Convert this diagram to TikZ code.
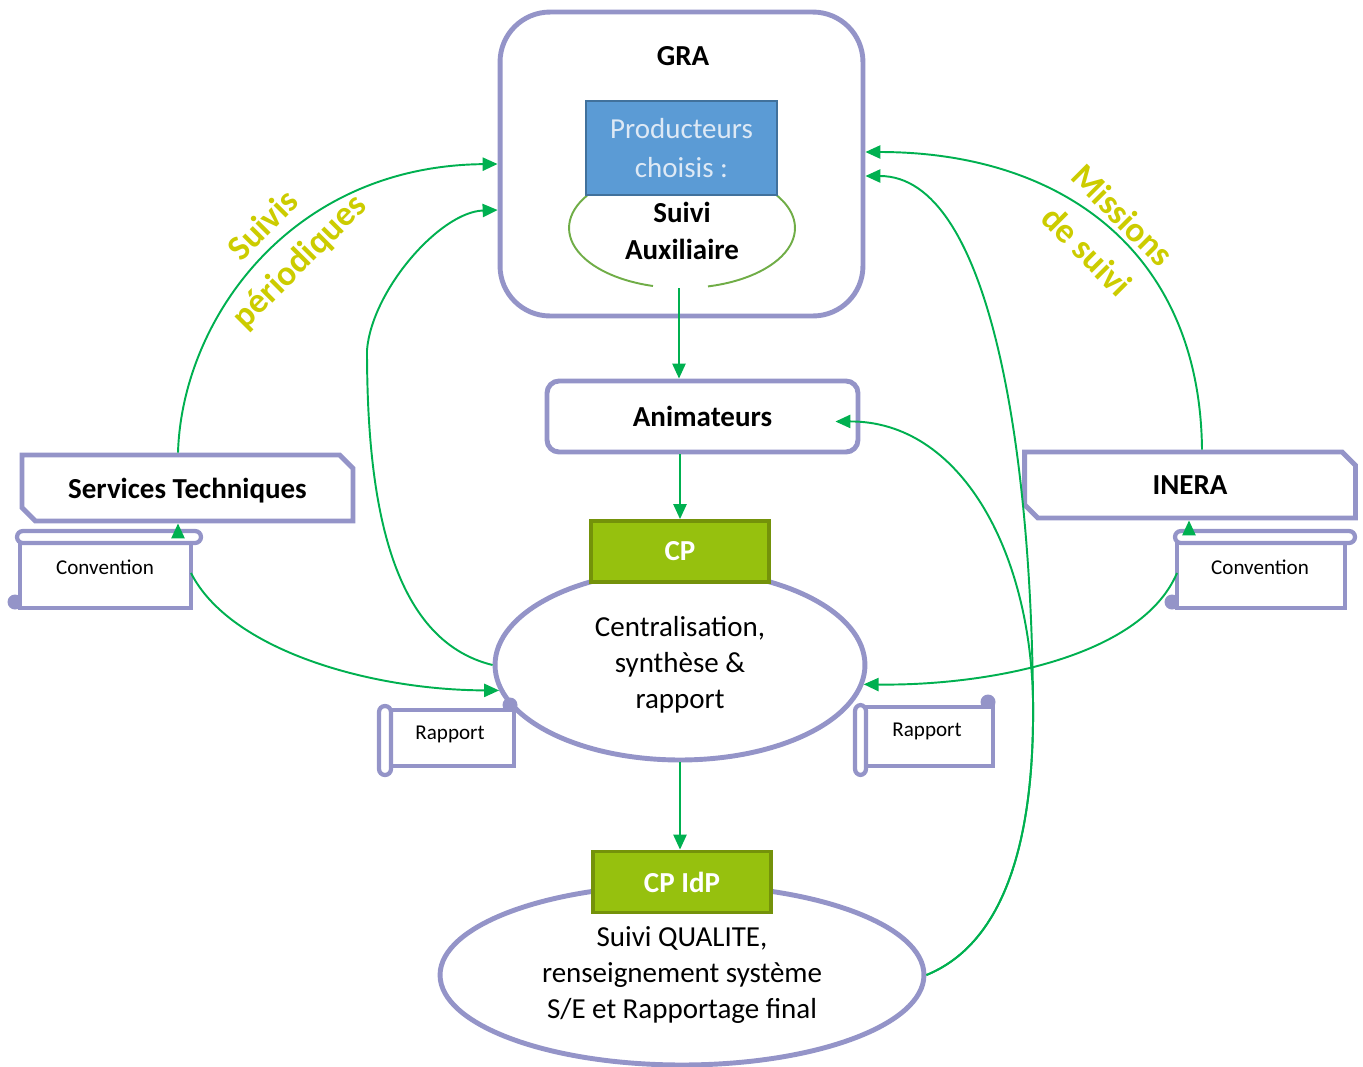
\documentclass[tikz,border=0pt]{standalone}
\usepackage{fontspec}
\setmainfont{Carlito}
\usetikzlibrary{calc,shapes.geometric,shapes.misc,arrows.meta}

\definecolor{framepurple}{RGB}{148,148,200}
\definecolor{flowgreen}{RGB}{0,176,80}
\definecolor{auxgreen}{RGB}{112,173,71}
\definecolor{prodblue}{RGB}{91,155,213}
\definecolor{prodborder}{RGB}{65,113,156}
\definecolor{prodtext}{RGB}{222,233,245}
\definecolor{cpgreen}{RGB}{150,193,14}
\definecolor{cpdark}{RGB}{116,146,10}
\definecolor{tagyellow}{RGB}{204,204,0}

\begin{document}
\begin{tikzpicture}[x=0.02cm,y=-0.02cm,
    frame/.style={draw=framepurple,line width=2.8pt},
    flow/.style={draw=flowgreen,line width=1.1pt,-{Triangle[length=8.5pt,width=7.5pt]}},
    bigtext/.style={font=\fontsize{16.5}{20.4}\selectfont},
    boldtext/.style={font=\fontsize{16.5}{21.5}\selectfont\bfseries},
    cpbox/.style={draw=cpdark,fill=cpgreen,line width=2.2pt,minimum width=3.56cm,minimum height=1.22cm,text=white,font=\fontsize{16.5}{20}\selectfont\bfseries},
    oval/.style={frame,fill=white,ellipse,align=center,bigtext},
    snipbox/.style={frame,fill=white,chamfered rectangle,chamfered rectangle corners={north east,south west},chamfered rectangle xsep=3.8pt,chamfered rectangle ysep=3.8pt,minimum width=6.62cm,minimum height=1.32cm,text depth=0pt,boldtext},
    scroll/.style={draw=framepurple,line width=2.4pt,fill=white},
    scrolltext/.style={font=\fontsize{12}{14}\selectfont},
    tag/.style={text=tagyellow,align=center,font=\fontsize{20}{29}\selectfont\bfseries}]
    \useasboundingbox (0,0) rectangle (1363,1066);

    % GRA box with the producers
    \node[frame,rounded corners=1cm,minimum width=7.26cm,minimum height=6.08cm] (gra) at (681.5,164) {};
    \node[boldtext] (gratitle) at (683,56) {GRA};
    \draw[auxgreen,line width=1.1pt] (587.7,195) arc[start angle=146.6,end angle=255.1,x radius=2.26cm,y radius=1.2cm];
    \draw[auxgreen,line width=1.1pt] (708,286.4) arc[start angle=283.3,end angle=393.4,x radius=2.26cm,y radius=1.2cm];
    \node[draw=prodborder,fill=prodblue,line width=1.1pt,minimum width=3.82cm,minimum height=1.88cm,text=prodtext,align=center,font=\fontsize{16.5}{22.7}\selectfont] (prod) at (681.5,148) {Producteurs\\choisis :};
    \node[boldtext,align=center] (aux) at (682,231) {Suivi\\Auxiliaire};
    \coordinate (auxb) at (679,288); % bottom of the green loop

    % middle column
    \node[frame,rounded corners=0.24cm,minimum width=6.22cm,minimum height=1.42cm,boldtext] (anim) at (702.5,416.5) {Animateurs};
    \node[oval,minimum width=7.4cm,minimum height=3.8cm] (centr) at (680,665) {Centralisation,\\synthèse \&\\rapport};
    \node[cpbox] (cp) at (680,551.5) {CP};
    \node[oval,minimum width=9.68cm,minimum height=3.6cm] (qual) at (682,975) {Suivi QUALITE,\\renseignement système\\S/E et Rapportage final};
    \node[cpbox] (cpidp) at (682,882) {CP IdP};

    % partners
    \node[snipbox] (st) at (187.5,488) {Services Techniques};
    \node[snipbox] (inera) at (1190,485) {INERA};

    % Convention (left)
    \fill[framepurple] (15,602) circle[radius=0.15cm];
    \draw[scroll] (20,537) rectangle (191,608);
    \draw[scroll,rounded corners=0.12cm] (17,531) rectangle (201,543);
    \node[scrolltext] (conv1) at (105,567) {Convention};
    % Convention (right)
    \fill[framepurple] (1172,602) circle[radius=0.15cm];
    \draw[scroll] (1177,537) rectangle (1345,608);
    \draw[scroll,rounded corners=0.12cm] (1175,531) rectangle (1355,543);
    \node[scrolltext] (conv2) at (1260,567) {Convention};
    % Rapport (left)
    \fill[framepurple] (510,705) circle[radius=0.15cm];
    \draw[scroll] (385,710) rectangle (514,766);
    \draw[scroll,rounded corners=0.12cm] (379,706) rectangle (391,775);
    \node[scrolltext] (rap1) at (450,734) {Rapport};
    % Rapport (right)
    \fill[framepurple] (988,702) circle[radius=0.15cm];
    \draw[scroll] (860,707) rectangle (993,766);
    \draw[scroll,rounded corners=0.12cm] (855,705) rectangle (866,775);
    \node[scrolltext] (rap2) at (927,731) {Rapport};

    \coordinate (conv1e) at (191,573);
    \coordinate (conv2w) at (1177,573);
    \coordinate (conv1n) at (178,531);
    \coordinate (conv2n) at (1189,531);
    \coordinate (bend) at (1033,700); % where the two long curves part

    % labels
    \node[tag,rotate=45] (suivis) at (282,244) {Suivis\\périodiques};
    \node[tag,rotate=-45] (missions) at (1105,233) {Missions\\de suivi};

    % connectors
    \draw[flow] (auxb) -- (auxb |- anim.north);
    \draw[flow] (cp.north |- anim.south) -- (cp.north);
    \draw[flow] (centr.south) -- (centr.south |- cpidp.north);
    \draw[flow] (conv1n) -- (conv1n |- st.south);
    \draw[flow] (conv2n) -- (conv2n |- inera.south);
    \draw[flow] ([xshift=-0.19cm]st.north) .. controls (182,320) and (290,166) .. (gra.west);
    \draw[flow] (centr.west) .. controls (390,640) and (367,500) .. (367,350) .. controls (372,290) and (440,212) .. ([yshift=-0.92cm]gra.west);
    \draw[flow] (conv1e) .. controls (230,650) and (370,690) .. (centr.188);
    \draw[flow] ([xshift=0.24cm]inera.north) .. controls (1200,250) and (1060,152) .. ([yshift=0.24cm]gra.east);
    \draw[flow] (conv2w) .. controls (1140,660) and (980,686) .. (centr.354);
    \draw[flow] (qual.east) .. controls (1000,945) and (1035,850) .. (bend) .. controls (1031,450) and (990,176) .. ([yshift=-0.24cm]gra.east);
    \draw[flow] (qual.east) .. controls (1000,945) and (1035,850) .. (bend) .. controls (1030,550) and (960,421) .. ([xshift=-0.5cm,yshift=-0.1cm]anim.east);
\end{tikzpicture}
\end{document}
